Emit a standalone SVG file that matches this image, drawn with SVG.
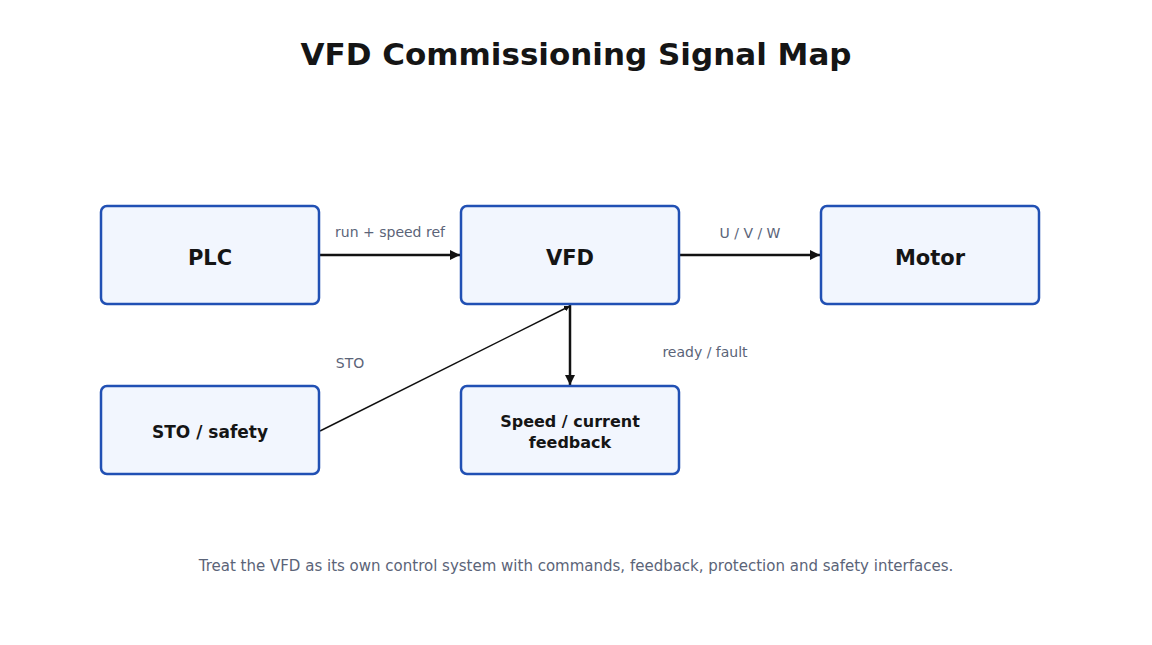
<svg xmlns="http://www.w3.org/2000/svg" width="1152" height="645" viewBox="0 0 1152 645">
<style>
text{font-family:"DejaVu Sans",sans-serif}
.box{fill:#f2f6fe;stroke:#2150b4;stroke-width:2.5}
.nl{font-weight:bold;fill:#151515;text-anchor:middle}
.el{font-size:14px;fill:#5b6478;text-anchor:middle}
.c{stroke:#111;stroke-width:2.5;fill:none;marker-end:url(#a)}
</style>
<defs><marker id="a" viewBox="0 0 10 10" refX="10" refY="5" markerWidth="4" markerHeight="4" orient="auto"><path d="M0,0L10,5L0,10z" fill="#111"/></marker></defs>
<rect width="1152" height="645" fill="#fff"/>
<text x="576" y="65" font-size="31" font-weight="bold" fill="#151515" text-anchor="middle">VFD Commissioning Signal Map</text>
<g id="connectors">
<path class="c" d="M320,255H460"/>
<path class="c" d="M680,255H820"/>
<path class="c" d="M570,305V385"/>
<path class="c" style="stroke-width:1.5" d="M320,431L570,306"/>
<text class="el" x="390" y="237">run + speed ref</text>
<text class="el" x="750" y="238">U / V / W</text>
<text class="el" x="350" y="368">STO</text>
<text class="el" x="705" y="357">ready / fault</text>
</g>
<g id="plc"><rect class="box" x="101" y="206" width="218" height="98" rx="6"/><text class="nl" x="210" y="265" font-size="21">PLC</text></g>
<g id="vfd"><rect class="box" x="461" y="206" width="218" height="98" rx="6"/><text class="nl" x="570" y="265" font-size="21">VFD</text></g>
<g id="motor"><rect class="box" x="821" y="206" width="218" height="98" rx="6"/><text class="nl" x="930" y="265" font-size="21">Motor</text></g>
<g id="sto"><rect class="box" x="101" y="386" width="218" height="88" rx="6"/><text class="nl" x="210" y="438" font-size="17">STO / safety</text></g>
<g id="fb"><rect class="box" x="461" y="386" width="218" height="88" rx="6"/><text class="nl" x="570" y="427" font-size="16">Speed / current</text><text class="nl" x="570" y="448" font-size="16">feedback</text></g>
<text x="576" y="571" font-size="15" fill="#5b6478" text-anchor="middle">Treat the VFD as its own control system with commands, feedback, protection and safety interfaces.</text>
</svg>
